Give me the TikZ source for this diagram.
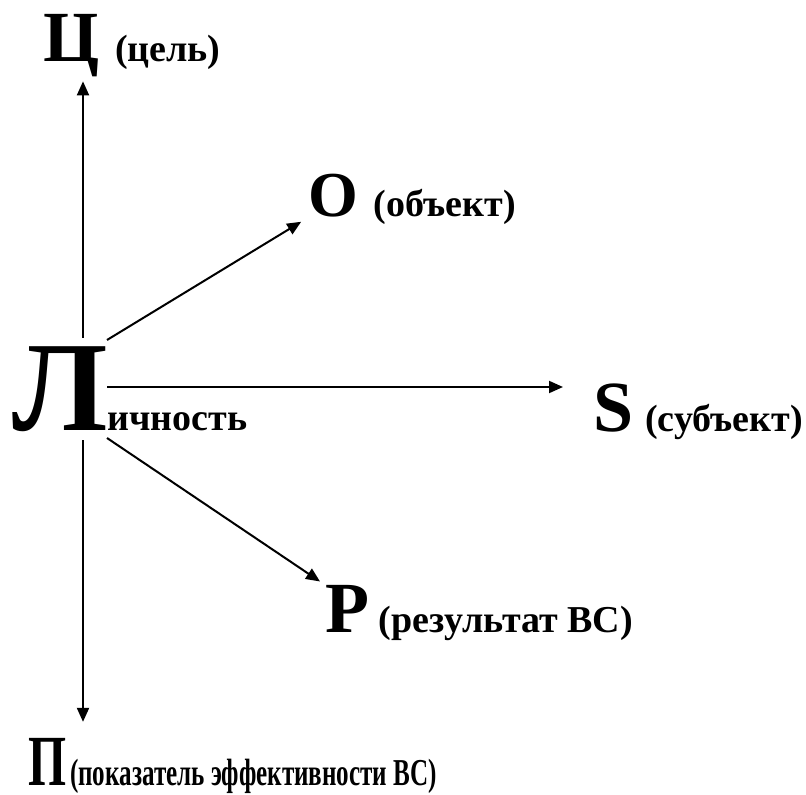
\documentclass[tikz,border=0pt]{standalone}
\usepackage{fontspec}
\setmainfont{Liberation Serif}
\usetikzlibrary{arrows.meta,positioning}
\tikzset{
 schema/.style={line cap=butt,line join=miter,font=\bfseries},
 letter/.style={inner sep=0pt,outer sep=0pt,font=\fontsize{36}{36}\selectfont\bfseries},
 bigletter/.style={letter,font=\fontsize{64}{64}\selectfont\bfseries},
 gloss/.style={inner sep=0pt,outer sep=0pt,font=\fontsize{19}{20}\selectfont\bfseries},
 arr/.style={draw=black,line width=1pt,-{Triangle[length=7pt,width=6pt]}}
}
\newcommand{\squeeze}[2][0.66]{\scalebox{#1}[1]{#2}}

\begin{document}
\begin{tikzpicture}[schema,x=0.5pt,y=-0.5pt]
 \useasboundingbox (0,0) rectangle (806,795);
 % centre: Lichnost'
 \node[bigletter,anchor=base west] (lich) at (12,430) {Л};
 \node[gloss,right=0pt of lich.base east,anchor=base west] (lichT) {ичность};
 \coordinate (up) at (83,338); \coordinate (dn) at (83,440);
 \coordinate (ne) at (107,340); \coordinate (ee) at (107,387);
 \coordinate (se) at (107,438);
 % outer letters
 \node[letter,anchor=base west] (ts) at (43,62) {Ц};
 \node[gloss,right=8pt of ts.base east,anchor=base west] (tsT) {(цель)};
 \node[letter,font=\fontsize{32}{32}\selectfont\bfseries,anchor=base west] (ob) at (308,217) {O};
 \node[gloss,right=8pt of ob.base east,anchor=base west] (obT) {(объект)};
 \node[letter,anchor=base west] (sb) at (593,431) {S};
 \node[gloss,right=6pt of sb.base east,anchor=base west] (sbT) {(субъект)};
 \node[letter,anchor=base west] (rz) at (325,632) {P};
 \node[gloss,right=5pt of rz.base east,anchor=base west] (rzT) {(результат ВС)};
 \node[letter,anchor=base west] (pk) at (28,785) {\squeeze[0.68]{П}};
 \node[gloss,right=2pt of pk.base east,anchor=base west] (pkT) {\squeeze{(показатель эффективности ВС)}};
 % arrows
 \draw[arr,shorten >=2pt] (up) -- (ts.south -| up);
 \draw[arr,shorten >=4pt] (ne) -- (ob.south west);
 \draw[arr,shorten >=15pt] (ee) -- (sb.west |- ee);
 \draw[arr,shorten >=3pt] (se) -- (rz.north west);
 \draw[arr,shorten >=8pt] (dn) -- (pk.north -| dn);
\end{tikzpicture}
\end{document}
